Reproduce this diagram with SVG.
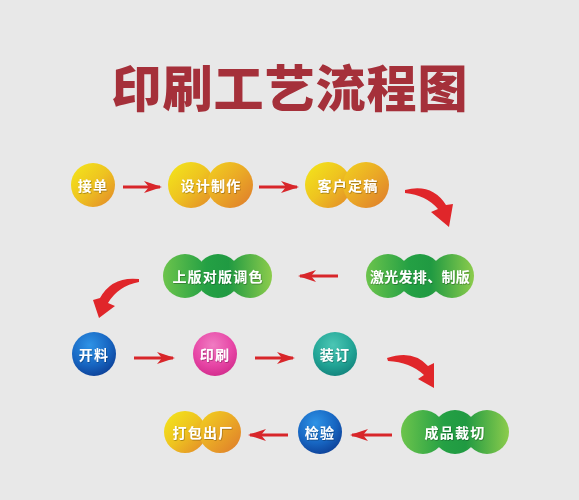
<svg xmlns="http://www.w3.org/2000/svg" width="579" height="500" viewBox="0 0 579 500">
<defs>
<style>
.lbl{font-family:"Noto Sans CJK SC","Noto Sans",sans-serif;font-weight:700;font-size:14px;fill:#ffffff;text-anchor:middle;dominant-baseline:central;letter-spacing:1.2px;filter:url(#sh)}
.ttl{font-family:"Noto Sans CJK SC","Noto Sans",sans-serif;font-weight:900;font-size:50px;fill:#a5303a;text-anchor:middle}
.ar{stroke:#d8262a;stroke-width:3;fill:none;marker-end:url(#head)}
.cv{fill:#e0262a}
.y{fill:url(#gy)}
.y2{fill:url(#gy2)}
.b{fill:url(#gb)}
.p{fill:url(#gp)}
.t{fill:url(#gt)}
</style>
<filter id="sh" x="-10%" y="-20%" width="130%" height="150%"><feDropShadow dx="0.6" dy="0.8" stdDeviation="0.6" flood-color="#000" flood-opacity="0.35"/></filter>
<marker id="head" markerUnits="userSpaceOnUse" markerWidth="20" markerHeight="14" viewBox="0 0 18 14" refX="16" refY="7" orient="auto">
<path d="M0,1 L18,7 L0,13 L5,7 Z" fill="#d8262a"/>
</marker>
<linearGradient id="gy" x1="0" y1="0" x2="1" y2="1">
<stop offset="0" stop-color="#f4e81a"/><stop offset="0.5" stop-color="#eec320"/><stop offset="1" stop-color="#e2862a"/>
</linearGradient>
<linearGradient id="gy2" x1="0" y1="0" x2="1" y2="1">
<stop offset="0" stop-color="#f2d21e"/><stop offset="0.5" stop-color="#eaa826"/><stop offset="1" stop-color="#de7a2c"/>
</linearGradient>
<radialGradient id="gb" cx="0.4" cy="0.3" r="0.75">
<stop offset="0" stop-color="#2e93e6"/><stop offset="0.6" stop-color="#1766c2"/><stop offset="1" stop-color="#0d3f96"/>
</radialGradient>
<radialGradient id="gp" cx="0.45" cy="0.3" r="0.75">
<stop offset="0" stop-color="#f07cc2"/><stop offset="0.6" stop-color="#e746a6"/><stop offset="1" stop-color="#d02a8a"/>
</radialGradient>
<radialGradient id="gt" cx="0.45" cy="0.3" r="0.75">
<stop offset="0" stop-color="#4cc6b4"/><stop offset="0.6" stop-color="#22a596"/><stop offset="1" stop-color="#12807a"/>
</radialGradient>
<linearGradient id="gg1" gradientUnits="userSpaceOnUse" x1="163" y1="0" x2="272" y2="0">
<stop offset="0" stop-color="#6cc44c"/><stop offset="0.4" stop-color="#24a044"/><stop offset="0.6" stop-color="#209a42"/><stop offset="1" stop-color="#8ccc4c"/>
</linearGradient>
<linearGradient id="gg2" gradientUnits="userSpaceOnUse" x1="366" y1="0" x2="474" y2="0">
<stop offset="0" stop-color="#6cc44c"/><stop offset="0.4" stop-color="#24a044"/><stop offset="0.6" stop-color="#209a42"/><stop offset="1" stop-color="#8ccc4c"/>
</linearGradient>
<linearGradient id="gg3" gradientUnits="userSpaceOnUse" x1="401" y1="0" x2="509" y2="0">
<stop offset="0" stop-color="#6cc44c"/><stop offset="0.4" stop-color="#24a044"/><stop offset="0.6" stop-color="#209a42"/><stop offset="1" stop-color="#8ccc4c"/>
</linearGradient>
</defs>
<rect width="579" height="500" fill="#e8e8e8"/>
<text class="ttl" x="290" y="107" style="letter-spacing:1px">印刷工艺流程图</text>

<g id="connectors">
<line class="ar" x1="123" y1="187" x2="160" y2="187"/>
<line class="ar" x1="259" y1="187" x2="297" y2="187"/>
<path class="cv" d="M405,190 Q432,183 446,205 L453,204 L449,227 L431,212 L438,209 Q426,195 405,193 Z"/>
<line class="ar" x1="338" y1="276" x2="300" y2="276"/>
<path class="cv" d="M139,279 Q112,276 100,298 L93,300 L99,318 L115,306 L108,303 Q118,286 139,282 Z"/>
<line class="ar" x1="134" y1="358" x2="173" y2="358"/>
<line class="ar" x1="255" y1="358" x2="293" y2="358"/>
<path class="cv" d="M387,358 Q413,349 428,366 L434,363 L434,388 L418,379 L424,375 Q410,362 388,361 Z"/>
<line class="ar" x1="392" y1="435" x2="352" y2="435"/>
<line class="ar" x1="288" y1="435" x2="250" y2="435"/>
</g>

<g id="n1"><circle class="y" cx="93" cy="185" r="22"/><text class="lbl" x="93" y="185">接单</text></g>
<g id="n2"><circle class="y" cx="191" cy="185" r="23"/><circle class="y2" cx="230" cy="185" r="23"/><text class="lbl" x="211" y="185">设计制作</text></g>
<g id="n3"><circle class="y" cx="328" cy="185" r="23"/><circle class="y2" cx="366" cy="185" r="23"/><text class="lbl" x="348" y="185">客户定稿</text></g>
<g id="n4"><circle fill="url(#gg2)" cx="388" cy="276" r="22"/><circle fill="url(#gg2)" cx="420" cy="276" r="22"/><circle fill="url(#gg2)" cx="452" cy="276" r="22"/><text class="lbl" x="420" y="276" style="letter-spacing:0.3px">激光发排、制版</text></g>
<g id="n5"><circle fill="url(#gg1)" cx="185" cy="276" r="22"/><circle fill="url(#gg1)" cx="218" cy="276" r="22"/><circle fill="url(#gg1)" cx="250" cy="276" r="22"/><text class="lbl" x="218" y="276">上版对版调色</text></g>
<g id="n6"><circle class="b" cx="94" cy="354" r="22"/><text class="lbl" x="94" y="354">开料</text></g>
<g id="n7"><circle class="p" cx="215" cy="354" r="22"/><text class="lbl" x="215" y="354">印刷</text></g>
<g id="n8"><circle class="t" cx="335" cy="354" r="22"/><text class="lbl" x="335" y="354">装订</text></g>
<g id="n9"><circle fill="url(#gg3)" cx="423" cy="432" r="22"/><circle fill="url(#gg3)" cx="455" cy="432" r="22"/><circle fill="url(#gg3)" cx="487" cy="432" r="22"/><text class="lbl" x="455" y="432">成品裁切</text></g>
<g id="n10"><circle class="b" cx="320" cy="432" r="22"/><text class="lbl" x="320" y="432">检验</text></g>
<g id="n11"><circle class="y" cx="185" cy="432" r="21"/><circle class="y2" cx="220" cy="432" r="21"/><text class="lbl" x="203" y="432">打包出厂</text></g>
</svg>
